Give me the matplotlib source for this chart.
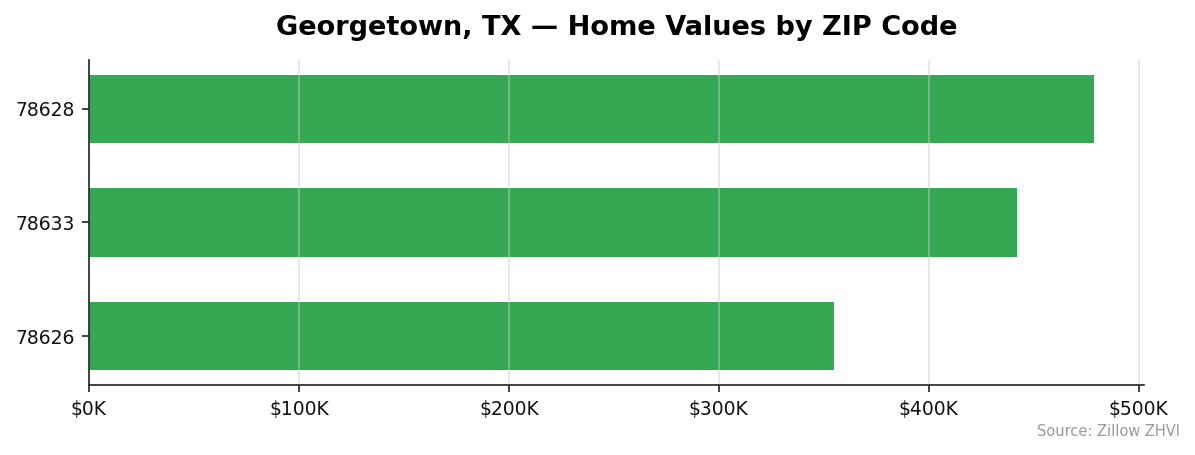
import matplotlib
matplotlib.use("Agg")
import matplotlib.pyplot as plt
from matplotlib.ticker import FuncFormatter

zips = ["78626", "78633", "78628"]
values = [354.8, 441.9, 478.6]  # thousands USD
title = "Georgetown, TX — Home Values by ZIP Code"
source = "Source: Zillow ZHVI"

DPI = 150
fig = plt.figure(figsize=(1195/DPI, 455/DPI), dpi=DPI)
ax = fig.add_axes([89/1195, 1-385/455, (1144-89)/1195, (385-60)/455])

ax.barh(zips, values, height=0.6, color="#34a853")
ax.set_xlim(0, max(values) * 1.05)
ax.set_xticks([0, 100, 200, 300, 400, 500])
ax.xaxis.set_major_formatter(FuncFormatter(lambda v, p: f"${v:.0f}K"))
ax.grid(axis="x", color="#cccccc", alpha=0.5, linewidth=0.8)
ax.grid(axis="y", visible=False)
for s in ["top", "right"]:
    ax.spines[s].set_visible(False)
for s in ["left", "bottom"]:
    ax.spines[s].set_color("#222222")
    ax.spines[s].set_linewidth(0.8)
ax.tick_params(labelsize=9, color="#222222", labelcolor="#111111", length=3.5)
ax.set_title(title, fontsize=13, fontweight="bold", pad=12)
fig.text(1180/1195, 1-432/455, source, ha="right", va="center", fontsize=7, color="#999999")

fig.savefig("out.png", dpi=DPI)
